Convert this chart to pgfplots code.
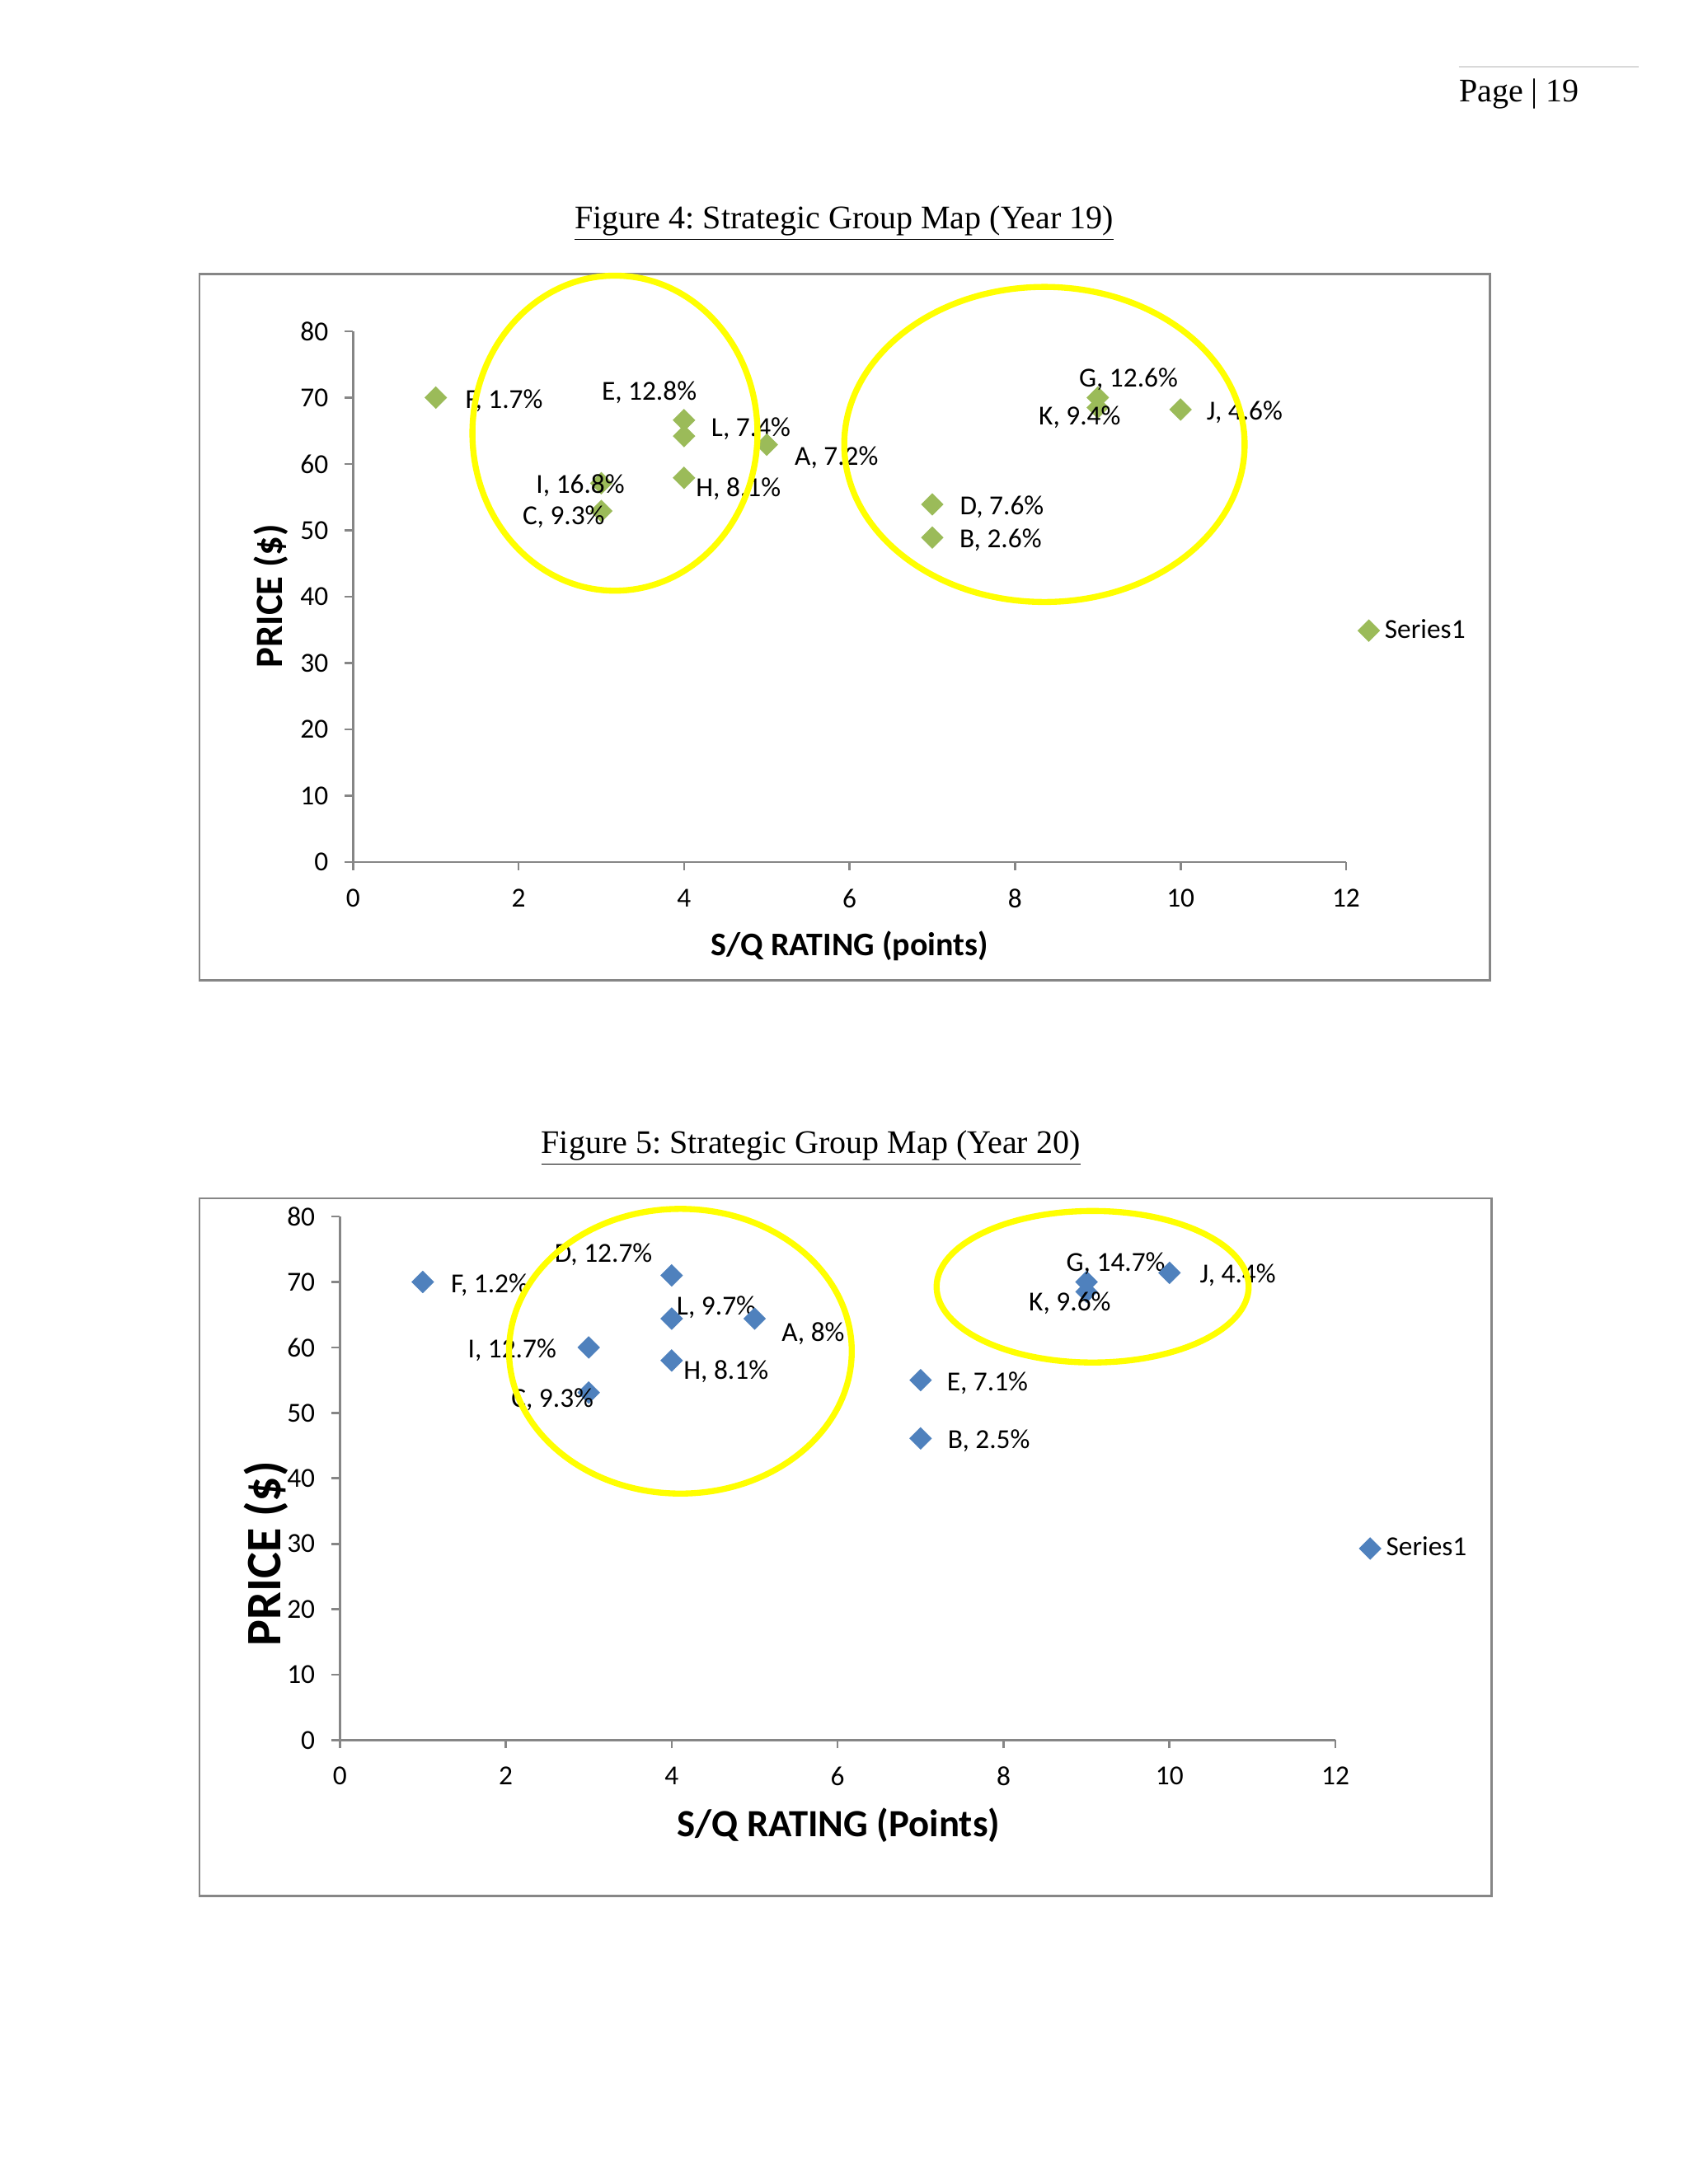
\documentclass[border=0pt]{standalone}
\usepackage{fontspec}
\setmainfont{Liberation Serif}
\newfontfamily\calibri{Carlito}
\usepackage{pgfplots}
\pgfplotsset{compat=1.18}
\definecolor{xgreen}{HTML}{9BBB59}
\definecolor{xblue}{HTML}{4F81BD}
\definecolor{xgray}{HTML}{868686}
\definecolor{xyellow}{HTML}{FFFF00}
\frenchspacing
\pgfplotsset{
 sgm/.style={
  scale only axis, xmin=0,xmax=12,ymin=0,ymax=80,
  axis x line*=bottom, axis y line*=left,
  axis line style={xgray, line width=0.8pt, -},
  xtick={0,2,...,12}, ytick={0,10,...,80},
  tick align=outside, major tick length=3pt,
  tick style={xgray, line width=0.8pt},
  /pgf/number format/assume math mode=true,
  ticklabel style={font=\calibri\fontsize{10}{12}\selectfont},
  xticklabel style={yshift=-3.3pt},
  yticklabel style={xshift=-2.5pt},
  clip=false,
  legend style={draw=none, fill=none, font=\calibri\fontsize{10}{12}\selectfont, legend cell align=left, inner sep=1pt},
  legend image code/.code={\draw[##1] plot coordinates {(0cm,0cm)};},
 },
 sgmplot/.style={
  only marks, mark=square*, mark size=2.7pt,
  mark options={rotate=45, fill=#1, draw=#1},
  nodes near coords,
  point meta=explicit symbolic,
  visualization depends on={\thisrow{dx} \as \dx},
  visualization depends on={\thisrow{dy} \as \dy},
  every node near coord/.append style={font=\calibri\fontsize{10}{12}\selectfont, text=black, anchor=center, inner sep=0pt, xshift={\dx*0.50685pt}, yshift={-\dy*0.50685pt-0.5pt}},
 }
}
\begin{document}
\begin{tikzpicture}
\begin{scope}[x=0.50685pt,y=-0.50685pt]
\fill[white] (0,0) rectangle (1212,1568);
\draw[gray!30, line width=0.5pt] (1047,48) -- (1176,48);
\node[anchor=base west, inner sep=0pt, font=\fontsize{12}{14}\selectfont] at (1047,73) {Page | 19};
\node[anchor=base, inner sep=0pt, font=\fontsize{12}{14}\selectfont] at (606,164) {\underline{Figure 4: Strategic Group Map (Year 19)}};
\node[anchor=base, inner sep=0pt, font=\fontsize{12}{14}\selectfont] at (582,828) {\underline{Figure 5: Strategic Group Map (Year 20)}};
\draw[xgray, line width=0.8pt] (143.2,196.9) rectangle (1069.4,704);
\draw[xgray, line width=0.8pt] (143.2,860.3) rectangle (1070.5,1361);
\end{scope}

\begin{axis}[sgm, at={(128.44pt,-313.69pt)}, anchor=origin, width=361.28pt, height=193.16pt,
  xlabel={S/Q RATING (points)}, ylabel={PRICE (\$)},
  xlabel style={font=\calibri\bfseries\fontsize{12}{14}\selectfont, at={(axis description cs:0.5,-0.158)}, anchor=center},
  ylabel style={font=\calibri\bfseries\fontsize{14}{16}\selectfont, at={(axis description cs:-0.0827,0.501)}, anchor=center, rotate=0},
  legend style={at={(1.009,0.436)}, anchor=west}]
\addplot[sgmplot=xgreen] table[meta=lab, col sep=semicolon, row sep=\\] {
x;y;lab;dx;dy\\
1;70;F, 1.7\%;49;1\\
4;66.6;E, 12.8\%;-25;-21\\
4;64.2;L, 7.4\%;48;-6\\
5;62.9;A, 7.2\%;50;8\\
3;57.1;I, 16.8\%;-15;1\\
3;52.9;C, 9.3\%;-27;3\\
4;57.9;H, 8.1\%;39;7\\
9;70;G, 12.6\%;22;-14\\
9;68.5;K, 9.4\%;-13;6\\
10;68.2;J, 4.6\%;46;1\\
7;53.9;D, 7.6\%;50;1\\
7;48.9;B, 2.6\%;49;1\\
};
\addlegendentry{Series1}
\end{axis}

\begin{axis}[sgm, at={(123.62pt,-633.21pt)}, anchor=origin, width=362.25pt, height=190.53pt,
  xlabel={S/Q RATING (Points)}, ylabel={PRICE (\$)},
  xlabel style={font=\calibri\bfseries\fontsize{14}{16}\selectfont, at={(axis description cs:0.501,-0.162)}, anchor=center},
  ylabel style={font=\calibri\bfseries\fontsize{18}{20}\selectfont, at={(axis description cs:-0.074,0.356)}, anchor=center},
  legend style={at={(1.021,0.366)}, anchor=west}]
\addplot[sgmplot=xblue] table[meta=lab, col sep=semicolon, row sep=\\] {
x;y;lab;dx;dy\\
1;70;F, 1.2\%;48;1\\
4;71;D, 12.7\%;-49;-16\\
4;64.4;L, 9.7\%;32;-9\\
5;64.4;A, 8\%;42;10\\
3;60;I, 12.7\%;-55;1\\
4;58;H, 8.1\%;39;7\\
3;53.1;C, 9.3\%;-26;4\\
9;70;G, 14.7\%;21;-14\\
9;68.5;K, 9.6\%;-12;7\\
10;71.4;J, 4.4\%;49;1\\
7;55;E, 7.1\%;48;1\\
7;46.1;B, 2.5\%;49;1\\
};
\addlegendentry{Series1}
\end{axis}

\begin{scope}[x=0.50685pt,y=-0.50685pt]
\draw[xyellow, line width=2.2pt] (441.4,311) ellipse [x radius=102.3, y radius=113.1];
\draw[xyellow, line width=2.2pt] (749.7,319.1) ellipse [x radius=143.7, y radius=113.1];
\draw[xyellow, line width=2.2pt] (488.4,970.1) ellipse [x radius=123, y radius=102.2];
\draw[xyellow, line width=2.2pt] (784.3,923.8) ellipse [x radius=112, y radius=54.4];
\end{scope}
\end{tikzpicture}
\end{document}
